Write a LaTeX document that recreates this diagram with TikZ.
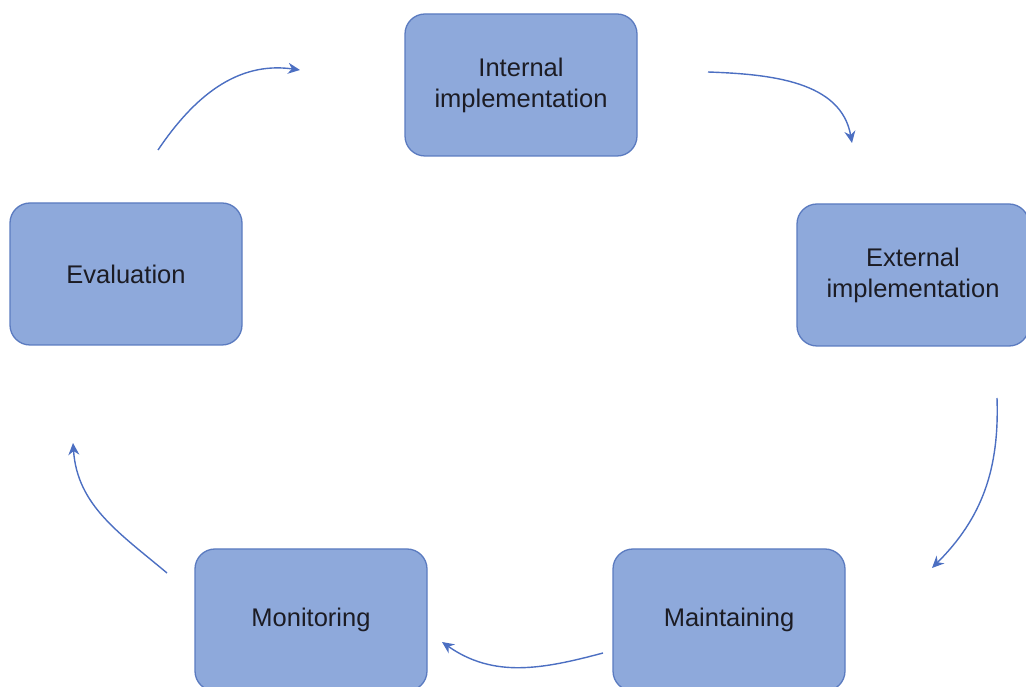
\documentclass[tikz,border=0pt]{standalone}
\usepackage{fontspec}
\setmainfont{Liberation Sans}
\usetikzlibrary{arrows.meta}
\definecolor{boxfill}{HTML}{8EA9DB}
\definecolor{boxdraw}{HTML}{5B7BC0}
\definecolor{arrowc}{HTML}{4C6FC2}
\definecolor{txt}{HTML}{1C1C24}
\begin{document}
\begin{tikzpicture}[x=1pt,y=1pt,
  stage/.style={draw=boxdraw,line width=1.3pt,fill=boxfill,rounded corners=20pt,
    minimum width=232pt,minimum height=142pt,align=center,text=txt,
    font=\fontsize{25.5}{31}\selectfont},
  flow/.style={draw=arrowc,line width=1.4pt,-{Stealth[length=12pt,width=11pt]}}]
\useasboundingbox (0,0) rectangle (1026,686);
\node[stage] (int) at (521,601) {Internal\\implementation};
\node[stage] (ext) at (913,411) {External\\implementation};
\node[stage] (eva) at (126,412) {Evaluation};
\node[stage] (mon) at (311,66) {Monitoring};
\node[stage] (mai) at (729,66) {Maintaining};
\coordinate (e2i-s) at (158,536);
\coordinate (e2i-e) at (300,616);
\coordinate (i2x-s) at (708,614);
\coordinate (i2x-e) at (852,543);
\coordinate (x2m-s) at (997,288);
\coordinate (x2m-e) at (932,118);
\coordinate (m2n-s) at (603,33);
\coordinate (m2n-e) at (442,44);
\coordinate (n2v-s) at (167,113);
\coordinate (n2v-e) at (73,243);
\draw[flow] (e2i-s) to[out=56,in=172] (e2i-e);
\draw[flow] (i2x-s) to[out=-2,in=100] (i2x-e);
\draw[flow] (x2m-s) to[out=-88,in=45] (x2m-e);
\draw[flow] (m2n-s) to[out=195,in=-35] (m2n-e);
\draw[flow] (n2v-s) to[out=140,in=-86] (n2v-e);
\end{tikzpicture}
\end{document}
